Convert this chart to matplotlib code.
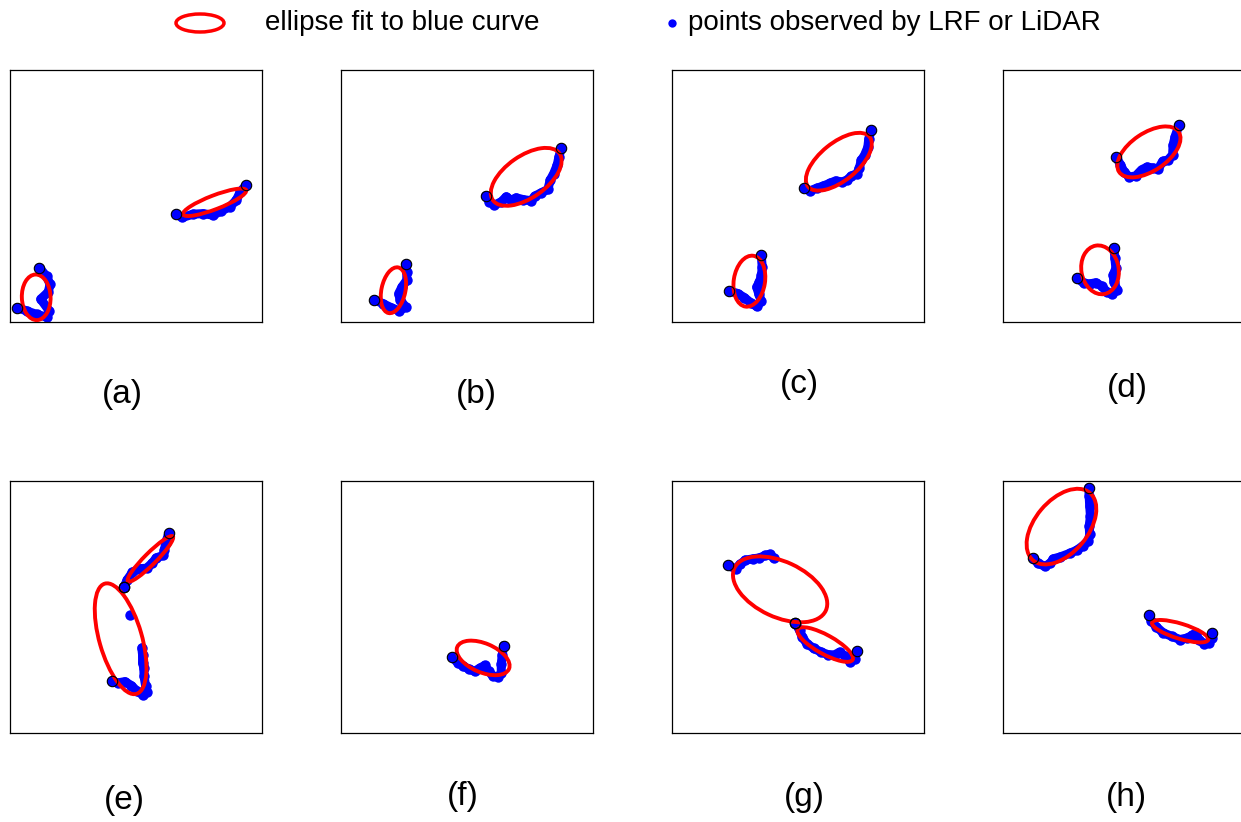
import numpy as np
import matplotlib.pyplot as plt
from matplotlib.patches import Ellipse

nan = np.nan

# blue scan curves, panel coordinates 0..100 (x right, y up)
a1_x = [2.9, 6.6, 10.6, 14.5, 15.6, 12.2, 15.2, 15.9, 14.5, 11.6]
a1_y = [5.7, 4.4, 3.0, 2.0, 4.4, 9.1, 11.9, 15.0, 18.1, 21.6]
a2_x = [65.7, 68.4, 72.7, 76.6, 80.6, 83.9, 87.2, 89.8, 91.4, 93.8]
a2_y = [42.8, 41.5, 42.8, 43.0, 42.4, 44.1, 45.7, 48.3, 51.7, 54.3]

b1_x = [13.2, 16.6, 19.9, 23.2, 25.6, 23.4, 22.9, 24.2, 26.1, 26.1, 25.6]
b1_y = [8.9, 7.3, 5.7, 4.4, 6.0, 8.9, 11.3, 13.9, 16.6, 19.7, 22.9]
b2_x = [57.4, 58.9, 60.9, 63.6, 65.6, 67.5, 69.5, 72.2, 75.5, 76.8, 79.5,
        82.1, 83.0, 84.4, 85.8, 86.5, 87.4]
b2_y = [50.1, 47.7, 46.4, 47.7, 49.7, 48.3, 49.3, 48.6, 48.1, 49.9, 51.3,
        52.6, 56.3, 58.9, 62.3, 65.6, 69.1]

c1_x = [22.8, 26.1, 28.7, 31.4, 33.6, 35.4, 34.4, 33.6, 34.7, 35.5, 35.8, 35.4]
c1_y = [12.3, 11.3, 9.7, 7.5, 6.2, 8.3, 11.3, 13.9, 15.9, 18.5, 21.9, 26.5]
c2_x = [52.3, 54.8, 57.5, 60.1, 62.5, 64.9, 67.5, 69.4, 71.1, 73.4, 74.4,
        75.1, 76.4, 77.7, 78.1, 79.1]
c2_y = [53.2, 52.1, 53.1, 54.0, 55.0, 56.0, 55.6, 56.3, 57.9, 58.9, 61.3,
        64.2, 66.2, 69.3, 72.8, 76.2]

d1_x = [29.4, 32.1, 34.4, 36.8, 39.1, 41.1, 43.2, 45.3, 44.0, 43.7, 44.8, 44.4, 44.0]
d1_y = [17.4, 15.4, 15.1, 15.6, 14.3, 12.1, 11.0, 12.7, 16.0, 18.7, 21.3, 25.3, 29.5]
d2_x = [45.0, 46.6, 48.0, 50.1, 52.7, 55.0, 57.2, 59.6, 61.6, 63.3, 65.6,
        67.3, 67.5, 68.3, 69.9]
d2_y = [65.4, 62.4, 59.7, 57.5, 58.0, 60.4, 61.5, 61.1, 60.7, 63.7, 64.4,
        66.4, 70.3, 73.6, 78.3]

e1_x = [45.3, 46.6, 48.6, 51.5, 54.2, 56.5, 58.1, 60.8, 61.3, 61.8, 63.0]
e1_y = [58.0, 60.9, 63.8, 65.2, 65.4, 67.5, 69.5, 70.5, 72.8, 75.5, 79.2]
e2_x = [40.3, 42.9, 45.6, 48.2, 50.2, 52.6, 54.2, 53.8, 53.2, 53.1, 52.6,
        52.6, 52.3, nan, 47.8, nan, 45.3]
e2_y = [20.5, 19.9, 20.4, 18.8, 16.8, 15.2, 16.2, 18.8, 22.5, 25.8, 27.8,
        31.1, 33.8, nan, 47.0, nan, 58.0]

f1_x = [44.0, 46.4, 48.6, 50.7, 53.0, 55.0, 57.0, 58.7, 60.3, 62.3, 63.6,
        63.6, 64.0, 64.5]
f1_y = [30.2, 27.8, 26.5, 25.4, 24.5, 25.7, 26.8, 24.5, 22.5, 22.3, 23.8,
        27.5, 31.1, 34.7]

g1_x = [22.1, 25.2, 27.0, 29.1, 32.1, 34.7, 37.1, 38.7, 40.3, nan, 48.9]
g1_y = [66.5, 65.2, 66.9, 68.6, 69.1, 69.5, 70.5, 70.9, 69.4, nan, 43.7]
g2_x = [48.9, 50.6, 51.7, 53.5, 56.2, 59.2, 61.9, 64.5, 66.5, 68.6, 70.5,
        72.5, 73.5]
g2_y = [43.7, 40.8, 38.1, 35.5, 33.6, 32.1, 31.1, 31.0, 32.1, 30.5, 28.3,
        29.4, 32.5]

h1_x = [11.9, 13.9, 16.6, 18.8, 19.9, 22.8, 26.5, 29.4, 31.8, 33.9, 34.4,
        34.2, 34.7, 34.4, 34.2, 34.0]
h1_y = [69.5, 67.3, 66.2, 67.3, 69.1, 69.9, 71.3, 72.6, 74.4, 76.2, 78.8,
        82.1, 86.1, 90.1, 94.0, 97.4]
h2_x = [58.0, 58.9, 60.9, 63.6, 66.9, 70.2, 73.1, 75.1, 76.6, 77.6, 79.7,
        81.6, 82.8, 83.0]
h2_y = [46.8, 44.4, 42.1, 39.7, 38.4, 37.1, 37.7, 38.8, 39.7, 37.1, 35.5,
        35.8, 37.7, 39.5]

# fitted ellipses: (cx, cy, major, minor, angle in degrees)
a_fits = [(10.4, 9.8, 18.1, 11.4, 92), (81.2, 47.5, 26.8, 5.5, 21)]
b_fits = [(20.8, 12.6, 18.5, 9.5, 78), (73.5, 57.6, 32.3, 16.6, 35)]
c_fits = [(30.7, 16.2, 20.4, 12.4, 81), (66.2, 63.6, 31.4, 15.0, 39)]
d_fits = [(38.5, 20.7, 19.5, 14.8, 100), (57.9, 67.5, 28.5, 15.0, 34)]
e_fits = [(55.7, 69.1, 25.2, 4.6, 45), (43.9, 37.4, 45.5, 16.9, 106)]
f_fits = [(56.4, 29.8, 22.3, 11.5, -23)]
g_fits = [(42.9, 57.0, 40.0, 22.0, -25), (60.8, 35.1, 24.9, 7.5, -29)]
h_fits = [(23.2, 81.9, 35.0, 21.0, 50), (70.3, 40.4, 23.3, 6.0, -17)]

labels = ['(a)', '(b)', '(c)', '(d)', '(e)', '(f)', '(g)', '(h)']
legend_labels = ['ellipse fit to blue curve', 'points observed by LRF or LiDAR']

curves = [
    [(a1_x, a1_y), (a2_x, a2_y)],
    [(b1_x, b1_y), (b2_x, b2_y)],
    [(c1_x, c1_y), (c2_x, c2_y)],
    [(d1_x, d1_y), (d2_x, d2_y)],
    [(e1_x, e1_y), (e2_x, e2_y)],
    [(f1_x, f1_y)],
    [(g1_x, g1_y), (g2_x, g2_y)],
    [(h1_x, h1_y), (h2_x, h2_y)],
]
fits = [a_fits, b_fits, c_fits, d_fits, e_fits, f_fits, g_fits, h_fits]

plt.rcParams['font.family'] = ['Liberation Sans', 'DejaVu Sans']

W, H = 1241, 822
fig = plt.figure(figsize=(W / 100, H / 100), dpi=100)

col_left = [10, 341, 672, 1003]
row_top = [70, 481]
size = 252
label_pos = [(122, 394), (476, 394), (799, 385), (1127, 388),
             (124, 800), (463, 796), (804, 797), (1126, 797)]

for i in range(8):
    r, c = divmod(i, 4)
    left, top = col_left[c], row_top[r]
    ax = fig.add_axes([left / W, (H - top - size) / H, size / W, size / H])
    ax.set_xlim(0, 100)
    ax.set_ylim(0, 100)
    ax.set_xticks([])
    ax.set_yticks([])
    for s in ax.spines.values():
        s.set_linewidth(0.9)

    for x, y in curves[i]:
        ax.plot(x, y, '-', color='blue', lw=6.5, marker='o', ms=7.5,
                mec='blue', mew=0, solid_capstyle='round',
                solid_joinstyle='round', zorder=2)
    for cx, cy, w, h, ang in fits[i]:
        ax.add_patch(Ellipse((cx, cy), w, h, angle=ang, fill=False,
                             edgecolor='red', lw=2.8, zorder=3))
    for x, y in curves[i]:
        xs = [v for v in x if not np.isnan(v)]
        ys = [v for v in y if not np.isnan(v)]
        ax.plot([xs[0], xs[-1]], [ys[0], ys[-1]], 'o', ms=7.5, mfc='none',
                mec='black', mew=0.8, zorder=4)

    lx, ly = label_pos[i]
    fig.text(lx / W, 1 - ly / H, labels[i], fontsize=24,
             ha='center', va='center')

# legend strip, pixel coordinates
lg = fig.add_axes([0, 1 - 46 / H, 1, 46 / H])
lg.set_xlim(0, W)
lg.set_ylim(46, 0)
lg.axis('off')
lg.add_patch(Ellipse((200, 23), 48, 18, fill=False, edgecolor='red', lw=2.5))
lg.text(265, 23, legend_labels[0], fontsize=20, va='center', ha='left')
lg.plot([672], [23], 'o', color='blue', ms=6, mew=0)
lg.text(688, 23, legend_labels[1], fontsize=20, va='center', ha='left')

fig.savefig('out.png', dpi=100)
